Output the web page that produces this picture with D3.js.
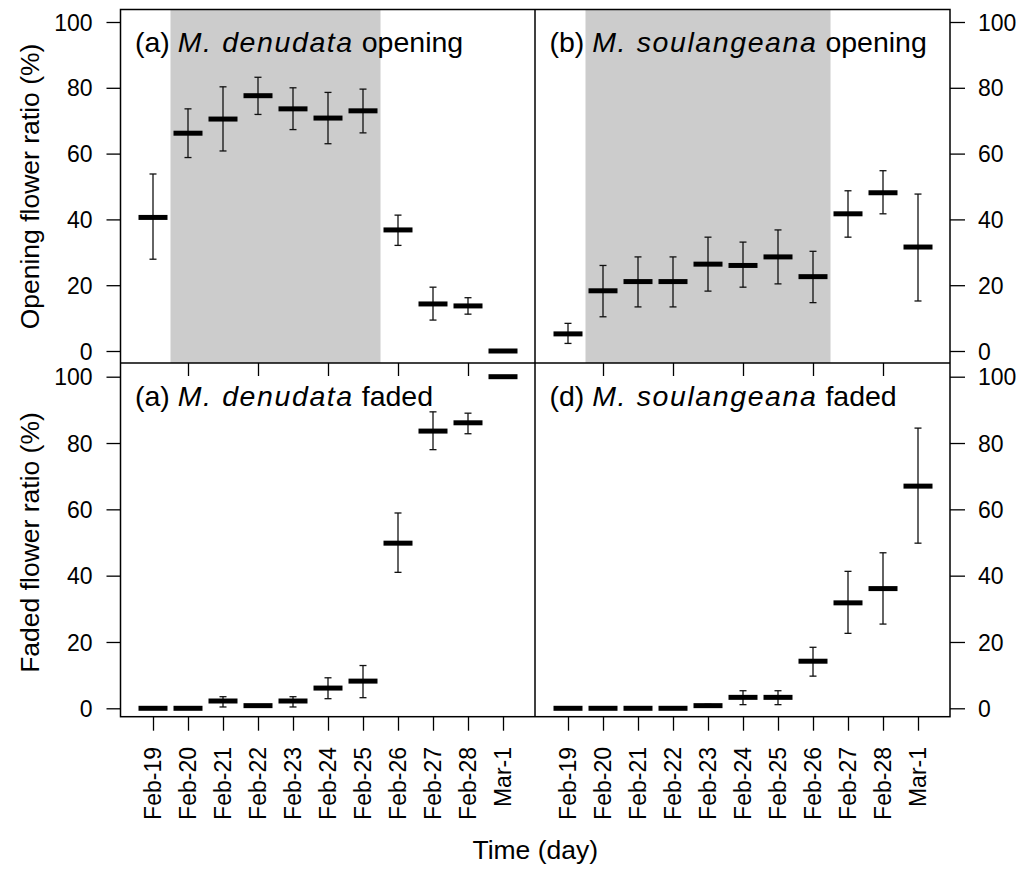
<!DOCTYPE html>
<html>
<head>
<meta charset="utf-8">
<script src="https://cdn.jsdelivr.net/npm/d3@7"></script>
<style>
  html, body { margin: 0; padding: 0; background: #fff; }
  svg { display: block; font-family: "Liberation Sans", Arial, sans-serif; }
</style>
</head>
<body>
<svg id="chart" width="1023" height="871"></svg>
<script>
// ---------- data ----------
const dates = ["Feb-19","Feb-20","Feb-21","Feb-22","Feb-23","Feb-24","Feb-25","Feb-26","Feb-27","Feb-28","Mar-1"];
const yTicks = [0, 20, 40, 60, 80, 100];

// (a) M. denudata opening
const denOpenMean  = [40.6, 66.2, 70.5, 77.6, 73.6, 70.8, 73.0, 36.8, 14.3, 13.7, 0];
const denOpenLow   = [27.9, 58.8, 60.8, 71.9, 67.3, 63.0, 66.3, 32.1,  9.4, 11.2, 0];
const denOpenHigh  = [53.8, 73.6, 80.3, 83.2, 80.0, 78.6, 79.6, 41.3, 19.4, 16.2, 0];

// (b) M. soulangeana opening
const souOpenMean  = [5.2, 18.3, 21.1, 21.1, 26.4, 26.0, 28.6, 22.6, 41.7, 48.1, 31.6];
const souOpenLow   = [2.3, 10.4, 13.4, 13.4, 18.2, 19.4, 20.4, 14.7, 34.6, 41.7, 15.2];
const souOpenHigh  = [8.4, 26.0, 28.6, 28.6, 34.6, 33.1, 36.8, 30.3, 48.7, 54.8, 47.7];

// (a) M. denudata faded
const denFadeMean  = [0, 0, 2.2, 0.8, 2.2, 6.1,  8.2, 49.8, 83.6, 86.1, 100];
const denFadeLow   = [0, 0, 0.4, 0.8, 0.4, 2.9,  3.2, 41.0, 78.0, 82.8, 100];
const denFadeHigh  = [0, 0, 3.5, 0.8, 3.5, 9.2, 12.9, 58.9, 89.4, 89.0, 100];

// (d) M. soulangeana faded
const souFadeMean  = [0, 0, 0, 0, 0.8, 3.3, 3.3, 14.2, 31.8, 36.1, 67.0];
const souFadeLow   = [0, 0, 0, 0, 0.3, 1.1, 1.1,  9.7, 22.6, 25.4, 49.8];
const souFadeHigh  = [0, 0, 0, 0, 1.2, 5.3, 5.3, 18.4, 41.3, 46.9, 84.5];

// shaded date ranges (in day index units)
const denShade = [1.5, 7.5];
const souShade = [1.5, 8.5];

const panelLabels = [
  {pre: "(a) ", sp: "M. denudata",    post: " opening"},
  {pre: "(b) ", sp: "M. soulangeana", post: " opening"},
  {pre: "(a) ", sp: "M. denudata",    post: " faded"},
  {pre: "(d) ", sp: "M. soulangeana", post: " faded"}
];

// ---------- layout ----------
const svg = d3.select("#chart");
const L = 120.5, M = 535, R = 950;
const T = 9.5, H = 363, B = 716.7;

const xLeft  = d3.scaleLinear().domain([1, 11]).range([153, 503]);
const xRight = d3.scaleLinear().domain([1, 11]).range([568, 918]);
const yTop    = d3.scaleLinear().domain([0, 100]).range([351, 22]);
const yBottom = d3.scaleLinear().domain([0, 100]).range([708.3, 376.7]);

const panels = [
  {x: xLeft,  y: yTop,    x0: L, x1: M, y0: T, y1: H, mean: denOpenMean, lo: denOpenLow, hi: denOpenHigh, shade: denShade, lab: panelLabels[0]},
  {x: xRight, y: yTop,    x0: M, x1: R, y0: T, y1: H, mean: souOpenMean, lo: souOpenLow, hi: souOpenHigh, shade: souShade, lab: panelLabels[1]},
  {x: xLeft,  y: yBottom, x0: L, x1: M, y0: H, y1: B, mean: denFadeMean, lo: denFadeLow, hi: denFadeHigh, shade: null, lab: panelLabels[2]},
  {x: xRight, y: yBottom, x0: M, x1: R, y0: H, y1: B, mean: souFadeMean, lo: souFadeLow, hi: souFadeHigh, shade: null, lab: panelLabels[3]}
];

panels.forEach(p => {
  const g = svg.append("g");
  if (p.shade) {
    g.append("rect")
      .attr("x", p.x(p.shade[0])).attr("y", p.y0)
      .attr("width", p.x(p.shade[1]) - p.x(p.shade[0]))
      .attr("height", p.y1 - p.y0)
      .attr("fill", "#cccccc");
  }
  // label
  const t = g.append("text")
    .attr("x", p.x0 + 14.5).attr("y", p.y0 + 42.5)
    .attr("font-size", 28.5).attr("fill", "#000");
  t.append("tspan").text(p.lab.pre);
  t.append("tspan").attr("font-style", "italic").attr("letter-spacing", 1.6).text(p.lab.sp);
  t.append("tspan").text(p.lab.post);

  const idx = d3.range(dates.length);
  // error bars
  idx.forEach(i => {
    if (p.hi[i] - p.lo[i] < 0.5) return;
    const cx = p.x(i + 1);
    g.append("line").attr("x1", cx).attr("x2", cx)
      .attr("y1", p.y(p.lo[i])).attr("y2", p.y(p.hi[i]))
      .attr("stroke", "#111").attr("stroke-width", 1.3);
    [p.lo[i], p.hi[i]].forEach(v => {
      g.append("line").attr("x1", cx - 3.5).attr("x2", cx + 3.5)
        .attr("y1", p.y(v)).attr("y2", p.y(v))
        .attr("stroke", "#111").attr("stroke-width", 1.3);
    });
  });
  // mean bars
  g.selectAll("line.mean").data(idx).join("line")
    .attr("class", "mean")
    .attr("x1", i => p.x(i + 1) - 14.5).attr("x2", i => p.x(i + 1) + 14.5)
    .attr("y1", i => p.y(p.mean[i])).attr("y2", i => p.y(p.mean[i]))
    .attr("stroke", "#000").attr("stroke-width", 5);
});

// frames
const frame = svg.append("g").attr("fill", "none").attr("stroke", "#000").attr("stroke-width", 1.5);
frame.append("rect").attr("x", L).attr("y", T).attr("width", R - L).attr("height", B - T);
frame.append("line").attr("x1", L).attr("x2", R).attr("y1", H).attr("y2", H);
frame.append("line").attr("x1", M).attr("x2", M).attr("y1", T).attr("y2", B);

// y axes
[yTop, yBottom].forEach(ys => {
  const gl = svg.append("g").attr("transform", `translate(${L},0)`)
    .call(d3.axisLeft(ys).tickValues(yTicks).tickSize(14).tickPadding(14));
  const gr = svg.append("g").attr("transform", `translate(${R},0)`)
    .call(d3.axisRight(ys).tickValues(yTicks).tickSize(15).tickPadding(13));
  [gl, gr].forEach(a => {
    a.select(".domain").remove();
    a.selectAll(".tick line").attr("stroke", "#000").attr("stroke-width", 1.3);
    a.selectAll(".tick text").attr("font-size", 23).attr("fill", "#000")
      .attr("font-family", "Liberation Sans, Arial, sans-serif").attr("dy", "0.35em");
  });
});

// bottom x axes with rotated labels
[xLeft, xRight].forEach(xs => {
  const ax = svg.append("g").attr("transform", `translate(0,${B})`)
    .call(d3.axisBottom(xs).tickValues(d3.range(1, 12)).tickSize(14).tickFormat(""));
  ax.select(".domain").remove();
  ax.selectAll(".tick line").attr("stroke", "#000").attr("stroke-width", 1.3);
  svg.append("g").selectAll("text").data(dates).join("text")
    .attr("transform", (d, i) => `translate(${xs(i + 1)},747) rotate(-90)`)
    .attr("text-anchor", "end").attr("dy", "0.35em")
    .attr("font-size", 23).attr("fill", "#000")
    .text(d => d);
  // inner ticks on the middle line (bottom panels' top)
  const top = svg.append("g").attr("transform", `translate(0,${H})`)
    .call(d3.axisBottom(xs).tickValues([2, 4, 6, 8, 10]).tickSize(13).tickFormat(""));
  top.select(".domain").remove();
  top.selectAll(".tick line").attr("stroke", "#000").attr("stroke-width", 1.3);
});

// axis titles
svg.append("text").attr("x", (L + R) / 2).attr("y", 859)
  .attr("text-anchor", "middle").attr("font-size", 26.5).text("Time (day)");
svg.append("text")
  .attr("transform", `translate(39,${(yTop(0) + yTop(100)) / 2}) rotate(-90)`)
  .attr("text-anchor", "middle").attr("font-size", 26.5).text("Opening flower ratio (%)");
svg.append("text")
  .attr("transform", `translate(39,${(yBottom(0) + yBottom(100)) / 2}) rotate(-90)`)
  .attr("text-anchor", "middle").attr("font-size", 26.5).text("Faded flower ratio (%)");
</script>
</body>
</html>
